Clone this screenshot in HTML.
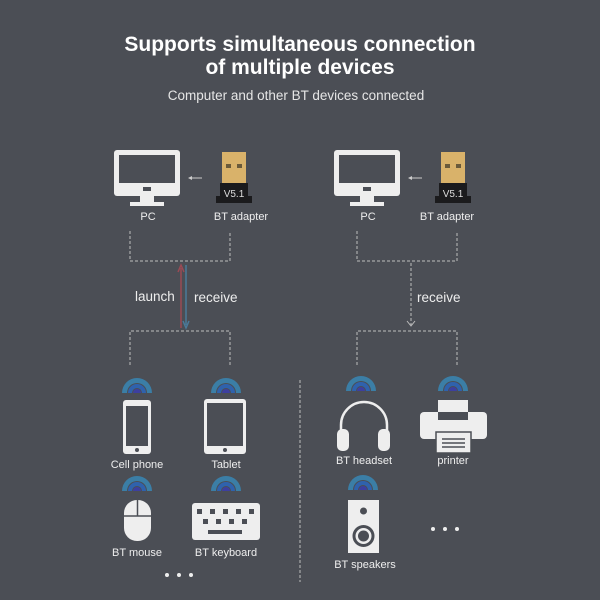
<!DOCTYPE html>
<html><head><meta charset="utf-8"><style>
html,body{margin:0;padding:0;background:#4b4e55;}
svg{display:block}
text{font-family:"Liberation Sans",sans-serif;}
</style></head><body>
<svg width="600" height="600" viewBox="0 0 600 600" xmlns="http://www.w3.org/2000/svg">
<defs>
<g id="wifi">
<path d="M-15,0 A15,15 0 0 1 15,0 L10,0 A10,10 0 0 0 -10,0 Z" fill="#3b7ea6"/>
<path d="M-9,0 A9,9 0 0 1 9,0 L5,0 A5,5 0 0 0 -5,0 Z" fill="#2f62ad"/>
<path d="M-4,0 A4,4 0 0 1 4,0 Z" fill="#3d3fa0"/>
</g>
<g id="pc">
<rect x="0" y="0" width="66" height="46" rx="3" fill="#eeeeee"/>
<rect x="5" y="5" width="56" height="28" fill="#4b4e55"/>
<rect x="29" y="37" width="8" height="4" fill="#4b4e55"/>
<rect x="26" y="46" width="14" height="7" fill="#eeeeee"/>
<rect x="16" y="52" width="34" height="4" fill="#eeeeee"/>
</g>
<g id="ad">
<rect x="4" y="0" width="24" height="31" fill="#d9b26a"/>
<rect x="8" y="12" width="5" height="4" fill="#6a5a3a"/>
<rect x="19" y="12" width="5" height="4" fill="#6a5a3a"/>
<path d="M2,31 H30 V44 H34 V51 H-2 V44 H2 Z" fill="#1b1b1d"/>
<text x="16" y="45" font-size="10" fill="#dddddd" text-anchor="middle">V5.1</text>
</g>
</defs>
<text x="300" y="51" font-size="21" font-weight="bold" fill="#ffffff" text-anchor="middle">Supports simultaneous connection</text>
<text x="300" y="74" font-size="21" font-weight="bold" fill="#ffffff" text-anchor="middle">of multiple devices</text>
<text x="296" y="100" font-size="13.5" fill="#e6e6e6" text-anchor="middle">Computer and other BT devices connected</text>

<use href="#pc" x="114" y="150"/>
<use href="#ad" x="218" y="152"/>
<line x1="189" y1="178" x2="202" y2="178" stroke="#cccccc" stroke-width="1"/>
<path d="M188,178 l4,-2 v4 z" fill="#cccccc"/>
<text x="148" y="220" font-size="11" fill="#eeeeee" text-anchor="middle">PC</text>
<text x="241" y="220" font-size="11" fill="#eeeeee" text-anchor="middle">BT adapter</text>

<use href="#pc" x="334" y="150"/>
<use href="#ad" x="437" y="152"/>
<line x1="409" y1="178" x2="422" y2="178" stroke="#cccccc" stroke-width="1"/>
<path d="M408,178 l4,-2 v4 z" fill="#cccccc"/>
<text x="368" y="220" font-size="11" fill="#eeeeee" text-anchor="middle">PC</text>
<text x="447" y="220" font-size="11" fill="#eeeeee" text-anchor="middle">BT adapter</text>

<g fill="none" stroke="#bdbdbd" stroke-width="1" stroke-dasharray="3,2">
<path d="M130,231 V261 H230 V231"/>
<path d="M130,365 V331 H230 V365"/>
<path d="M357,231 V261 H457 V231"/>
<path d="M357,365 V331 H457 V365"/>
<line x1="411" y1="263" x2="411" y2="325"/>
<line x1="300" y1="380" x2="300" y2="582"/>
</g>
<path d="M407,321 L411,326 L415,321" fill="none" stroke="#bdbdbd" stroke-width="1"/>
<line x1="181" y1="268" x2="181" y2="328" stroke="#9a4a55" stroke-width="1.5"/>
<path d="M178,272 L181,265 L184,272" fill="none" stroke="#9a4a55" stroke-width="1.5"/>
<line x1="186" y1="265" x2="186" y2="325" stroke="#4a7a9a" stroke-width="1.5"/>
<path d="M183,321 L186,328 L189,321" fill="none" stroke="#4a7a9a" stroke-width="1.5"/>
<text x="135" y="301" font-size="13.5" fill="#eeeeee">launch</text>
<text x="194" y="302" font-size="13.5" fill="#eeeeee">receive</text>
<text x="417" y="302" font-size="13.5" fill="#eeeeee">receive</text>

<use href="#wifi" x="137" y="393"/>
<use href="#wifi" x="226" y="393"/>
<use href="#wifi" x="137" y="491"/>
<use href="#wifi" x="226" y="491"/>
<use href="#wifi" x="361" y="391"/>
<use href="#wifi" x="453" y="391"/>
<use href="#wifi" x="363" y="490"/>

<!-- phone -->
<rect x="123" y="400" width="28" height="54" rx="3" fill="#eeeeee"/>
<rect x="126" y="406" width="22" height="40" fill="#4b4e55"/>
<circle cx="137" cy="450" r="2" fill="#4b4e55"/>
<text x="137" y="468" font-size="11" fill="#eeeeee" text-anchor="middle">Cell phone</text>
<!-- tablet -->
<rect x="204" y="399" width="42" height="55" rx="3" fill="#eeeeee"/>
<rect x="207" y="403" width="36" height="43" fill="#4b4e55"/>
<circle cx="225" cy="450" r="2" fill="#4b4e55"/>
<text x="226" y="468" font-size="11" fill="#eeeeee" text-anchor="middle">Tablet</text>
<!-- mouse -->
<rect x="124" y="500" width="27" height="41" rx="13" fill="#eeeeee"/>
<line x1="124" y1="516" x2="151" y2="516" stroke="#4b4e55" stroke-width="1.5"/>
<line x1="137.5" y1="500" x2="137.5" y2="516" stroke="#4b4e55" stroke-width="1.5"/>
<text x="137" y="556" font-size="11" fill="#eeeeee" text-anchor="middle">BT mouse</text>
<!-- keyboard -->
<rect x="192" y="503" width="68" height="37" rx="3" fill="#eeeeee"/>
<g fill="#4b4e55">
<rect x="197" y="509" width="5" height="5"/><rect x="210" y="509" width="5" height="5"/><rect x="223" y="509" width="5" height="5"/><rect x="236" y="509" width="5" height="5"/><rect x="249" y="509" width="5" height="5"/>
<rect x="203" y="519" width="5" height="5"/><rect x="216" y="519" width="5" height="5"/><rect x="229" y="519" width="5" height="5"/><rect x="242" y="519" width="5" height="5"/>
<rect x="208" y="530" width="34" height="4"/>
</g>
<text x="226" y="556" font-size="11" fill="#eeeeee" text-anchor="middle">BT keyboard</text>
<g fill="#eeeeee"><circle cx="167" cy="575" r="2"/><circle cx="179" cy="575" r="2"/><circle cx="191" cy="575" r="2"/></g>

<!-- headset -->
<path d="M341,440 V425 A22,22 0 0 1 387,425 V440" fill="none" stroke="#eeeeee" stroke-width="2.5"/>
<rect x="337" y="429" width="12" height="22" rx="5" fill="#eeeeee"/>
<rect x="378" y="429" width="12" height="22" rx="5" fill="#eeeeee"/>
<text x="364" y="464" font-size="11" fill="#eeeeee" text-anchor="middle">BT headset</text>
<!-- printer -->
<rect x="438" y="400" width="30" height="12" fill="#eeeeee"/>
<rect x="420" y="412" width="67" height="27" rx="4" fill="#eeeeee"/>
<rect x="438" y="412" width="30" height="8" fill="#4b4e55"/>
<rect x="436" y="432" width="35" height="21" fill="#eeeeee" stroke="#4b4e55" stroke-width="1.5"/>
<g stroke="#4b4e55" stroke-width="1.5"><line x1="442" y1="439" x2="465" y2="439"/><line x1="442" y1="443" x2="465" y2="443"/><line x1="442" y1="447" x2="465" y2="447"/></g>
<text x="453" y="464" font-size="11" fill="#eeeeee" text-anchor="middle">printer</text>
<!-- speaker -->
<rect x="348" y="500" width="31" height="53" fill="#eeeeee"/>
<circle cx="363.5" cy="511" r="3.5" fill="#4b4e55"/>
<circle cx="363.5" cy="536" r="11" fill="#4b4e55"/>
<circle cx="363.5" cy="536" r="8" fill="#eeeeee"/>
<circle cx="363.5" cy="536" r="5.5" fill="#4b4e55"/>
<text x="365" y="568" font-size="11" fill="#eeeeee" text-anchor="middle">BT speakers</text>
<g fill="#eeeeee"><circle cx="433" cy="529" r="2"/><circle cx="445" cy="529" r="2"/><circle cx="457" cy="529" r="2"/></g>
</svg>
</body></html>
